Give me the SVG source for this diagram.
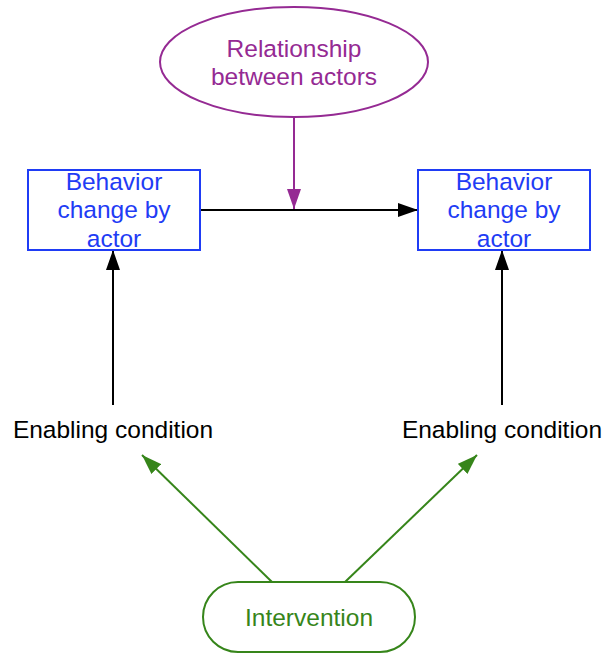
<svg xmlns="http://www.w3.org/2000/svg" width="605" height="653" viewBox="0 0 605 653">
<style>
text{font-family:"Liberation Sans",Arial,sans-serif;font-size:24.5px;text-anchor:middle}
.p{fill:#952a93}.b{fill:#1f3cf5}.g{fill:#36851a}.k{fill:#000}
.line{fill:none;stroke-width:2}
</style>
<defs>
<marker id="ak" markerWidth="20" markerHeight="14" refX="20" refY="7" orient="auto" markerUnits="userSpaceOnUse"><path d="M0,0L20,7L0,14Z" fill="#000"/></marker>
<marker id="ap" markerWidth="20" markerHeight="14" refX="20" refY="7" orient="auto" markerUnits="userSpaceOnUse"><path d="M0,0L20,7L0,14Z" fill="#952a93"/></marker>
<marker id="ag" markerWidth="20" markerHeight="14" refX="20" refY="7" orient="auto" markerUnits="userSpaceOnUse"><path d="M0,0L20,7L0,14Z" fill="#36851a"/></marker>
</defs>
<g id="connectors">
<line class="line" x1="294" y1="117" x2="294" y2="209" stroke="#952a93" marker-end="url(#ap)"/>
<line class="line" x1="200" y1="210" x2="418" y2="210" stroke="#000" marker-end="url(#ak)"/>
<line class="line" x1="113" y1="405" x2="113" y2="250" stroke="#000" marker-end="url(#ak)"/>
<line class="line" x1="502" y1="405" x2="502" y2="250" stroke="#000" marker-end="url(#ak)"/>
<line class="line" x1="272" y1="582" x2="142" y2="455" stroke="#36851a" marker-end="url(#ag)"/>
<line class="line" x1="345" y1="582" x2="477" y2="455" stroke="#36851a" marker-end="url(#ag)"/>
</g>
<g id="relationship">
<ellipse cx="294" cy="62" rx="134" ry="55" fill="#fff" stroke="#952a93" stroke-width="2"/>
<text class="p" x="294" y="57">Relationship</text>
<text class="p" x="294" y="85">between actors</text>
</g>
<g id="behavior-left">
<rect x="28" y="170" width="172" height="80" fill="#fff" stroke="#1f3cf5" stroke-width="2"/>
<text class="b" x="114" y="190">Behavior</text>
<text class="b" x="114" y="218">change by</text>
<text class="b" x="114" y="247">actor</text>
</g>
<g id="behavior-right">
<rect x="418" y="170" width="172" height="80" fill="#fff" stroke="#1f3cf5" stroke-width="2"/>
<text class="b" x="504" y="190">Behavior</text>
<text class="b" x="504" y="218">change by</text>
<text class="b" x="504" y="247">actor</text>
</g>
<g id="enabling-left">
<text class="k" x="113" y="438">Enabling condition</text>
</g>
<g id="enabling-right">
<text class="k" x="502" y="438">Enabling condition</text>
</g>
<g id="intervention">
<rect x="203" y="582" width="212" height="70" rx="35" ry="35" fill="#fff" stroke="#36851a" stroke-width="2"/>
<text class="g" x="309" y="626">Intervention</text>
</g>
</svg>
